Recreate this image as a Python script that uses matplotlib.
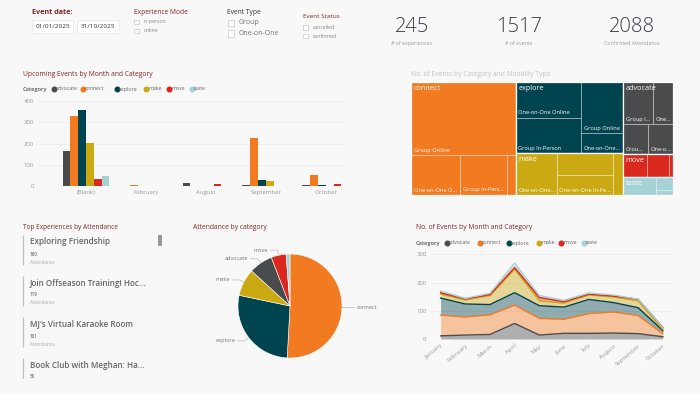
"""
Events dashboard: filters, KPI cards, upcoming bars, treemap, top list, pie and stacked area.
"""

import numpy as np
import matplotlib
matplotlib.use("Agg")
import matplotlib.pyplot as plt
from matplotlib.patches import Rectangle
from matplotlib.lines import Line2D

plt.rcParams['font.family'] = ['Open Sans', 'DejaVu Sans']

# ---------------- data ----------------
categories = ["advocate", "connect", "explore", "make", "move", "taste"]
cat_colors = ["#4A4B4D", "#F27B22", "#00444F", "#CBA913", "#D9291F", "#A6D1D6"]

date_from = "01/01/2025"
date_to = "31/10/2025"
experience_modes = ["in-person", "online"]
event_types = ["Group", "One-on-One"]
event_statuses = ["cancelled", "confirmed"]

kpi_values = [245, 1517, 2088]
kpi_labels = ["# of experiences", "# of events", "Confirmed Attendance"]

# upcoming events by month
up_months = ["(Blank)", "February", "August", "September", "October"]
up_advocate = [163, 0, 13, 6, 3]
up_connect = [330, 3, 0, 228, 52]
up_explore = [360, 0, 0, 30, 6]
up_make = [204, 0, 0, 25, 2]
up_move = [35, 0, 9, 2, 10]
up_taste = [45, 0, 0, 0, 0]

# treemap: events by category and modality
tm_connect_names = ["Group Online", "One-on-One Online", "Group In-Person", "One-on-One In-Person"]
tm_connect = [393, 100, 96, 18]
tm_explore_names = ["One-on-One Online", "Group In-Person", "Group Online", "One-on-One In-Person"]
tm_explore = [120, 117, 110, 43]
tm_make_names = ["One-on-One Online", "Group Online", "One-on-One In-Person", "Group In-Person"]
tm_make = [88, 63, 57, 22]
tm_advocate_names = ["Group In-Person", "One-on-One In-Person", "Group Online", "One-on-One Online"]
tm_advocate = [65, 43, 38, 38]
tm_move_names = ["Group In-Person", "Group Online", "One-on-One Online"]
tm_move = [28, 25, 5]
tm_taste_names = ["Group In-Person", "Group Online", "One-on-One Online"]
tm_taste = [30, 12, 4]

# top experiences
exp_names = ["Exploring Friendship", "Join Offseason Training! Hoc...",
             "MJ's Virtual Karaoke Room", "Book Club with Meghan: Ha..."]
exp_attendance = [160, 119, 101, 55]

# attendance by category (pie order)
pie_names = ["connect", "explore", "make", "advocate", "move", "taste"]
pie_values = [1062, 573, 177, 154, 97, 25]

# events by month and category
months = ["January", "February", "March", "April", "May", "June",
          "July", "August", "September", "October"]
ev_advocate = [11, 14, 16, 55, 14, 20, 20, 21, 19, 8]
ev_connect = [74, 64, 70, 65, 59, 50, 70, 75, 64, 11]
ev_explore = [60, 46, 36, 44, 45, 43, 50, 33, 28, 11]
ev_make = [14, 14, 32, 83, 17, 14, 16, 20, 24, 4]
ev_move = [5, 4, 3, 6, 12, 5, 3, 3, 6, 7]
ev_taste = [6, 2, 5, 16, 7, 5, 4, 4, 0, 0]

# ---------------- figure helpers ----------------
W, H = 700, 394
BG = "#F8F8F8"
TITLE_RED = "#862525"
fig = plt.figure(figsize=(W / 100, H / 100), dpi=100, facecolor=BG)


def fx(px):
    return px / W


def fy(py):
    return 1 - py / H


def add_ax(l, t, r, b):
    ax = fig.add_axes([l / W, 1 - b / H, (r - l) / W, (b - t) / H])
    ax.set_facecolor("none")
    return ax


def ftext(x, y, s, **kw):
    kw.setdefault("va", "center")
    return fig.text(fx(x), fy(y), s, **kw)


def frect(l, t, r, b, **kw):
    fig.add_artist(Rectangle((fx(l), fy(b)), (r - l) / W, (b - t) / H,
                             transform=fig.transFigure, **kw))


def legend_row(x0, y, circle_xs):
    ftext(x0, y, "Category", fontsize=4.1, color="#555555", weight="semibold")
    for cat, col, cx in zip(categories, cat_colors, circle_xs):
        fig.add_artist(Line2D([fx(cx)], [fy(y)], marker="o", ms=3.3, color=col,
                              lw=0, transform=fig.transFigure))
        ftext(cx + 2.2, y, cat, fontsize=3.8, color="#666666")


renderer = fig.canvas.get_renderer()


def fit_text(ax, x, y, s, maxw, **kw):
    t = ax.text(x, y, s, **kw)
    n = len(s)
    while t.get_window_extent(renderer).width > maxw and n > 1:
        n -= 1
        t.set_text(s[:n] + "...")
    if t.get_window_extent(renderer).width > maxw:
        t.set_text("")
    return t


# ---------------- header / filters ----------------
ftext(32, 12, "Event date:", fontsize=5.2, color=TITLE_RED, weight="bold")
for (l, r), s in zip([(32, 73), (77, 119)], [date_from, date_to]):
    frect(l, 20, r, 33, facecolor="white", edgecolor="#E6E6E6", lw=0.5)
    ftext((l + r) / 2, 26.5, s, fontsize=4.6, color="#333333", ha="center")

ftext(134, 12, "Experience Mode", fontsize=4.8, color=TITLE_RED)
for i, s in enumerate(experience_modes):
    yy = 22 + 9 * i
    frect(134, yy - 2.2, 138.5, yy + 2.2, facecolor="white", edgecolor="#BBBBBB", lw=0.4)
    ftext(144, yy, s, fontsize=3.7, color="#888888")

ftext(227, 12, "Event Type", fontsize=4.8, color="#333333")
for i, s in enumerate(event_types):
    yy = 23 + 10.5 * i
    frect(227.5, yy - 3.2, 233.5, yy + 3.2, facecolor="white", edgecolor="#BBBBBB", lw=0.4)
    ftext(239, yy, s, fontsize=5, color="#777777")

ftext(303, 17, "Event Status", fontsize=4.6, color=TITLE_RED)
for i, s in enumerate(event_statuses):
    yy = 27.5 + 8.5 * i
    frect(303, yy - 2.2, 307.5, yy + 2.2, facecolor="white", edgecolor="#BBBBBB", lw=0.4)
    ftext(313, yy, s, fontsize=3.7, color="#888888")

for v, lab, cx in zip(kpi_values, kpi_labels, [412, 519, 632]):
    ftext(cx, 27, str(v), fontsize=14.5, color="#3A3F4B", ha="center", weight="light")
    ftext(cx, 43.5, lab, fontsize=3.8, color="#999999", ha="center")

# ---------------- upcoming events bar chart ----------------
ftext(23, 74.5, "Upcoming Events by Month and Category", fontsize=4.9, color=TITLE_RED)
legend_row(23, 89, [54, 83, 117, 146, 169, 192])

ax1 = add_ax(38, 101, 345, 186)
up_series = [up_advocate, up_connect, up_explore, up_make, up_move, up_taste]
x = np.arange(len(up_months))
bw = 0.13
for i, vals in enumerate(up_series):
    ax1.bar(x + (i - 2.5) * bw, vals, bw, color=cat_colors[i], linewidth=0, zorder=3)
ax1.set_xlim(-0.8, 4.32)
ax1.set_ylim(0, 400)
ax1.set_yticks([0, 100, 200, 300, 400])
ax1.set_xticks(x)
ax1.set_xticklabels(up_months)
ax1.grid(axis="y", color="#EDEDED", lw=0.6)
for sp in ax1.spines.values():
    sp.set_visible(False)
ax1.tick_params(length=0, labelsize=4.3, colors="#999999", pad=3)

# ---------------- treemap ----------------
ftext(411, 75, "No. of Events by Category and Modality Type", fontsize=4.9, color="#C4C4C4")
tm_ax = add_ax(411, 82, 673, 195)
TW, TH = 262, 113
tm_ax.set_xlim(0, TW)
tm_ax.set_ylim(TH, 0)
tm_ax.axis("off")

tm_vals = {"connect": tm_connect, "explore": tm_explore, "make": tm_make,
           "advocate": tm_advocate, "move": tm_move, "taste": tm_taste}
tm_names = {"connect": tm_connect_names, "explore": tm_explore_names, "make": tm_make_names,
            "advocate": tm_advocate_names, "move": tm_move_names, "taste": tm_taste_names}
tm_columns = [["connect"], ["explore", "make"], ["advocate", "move", "taste"]]
tm_split = {"connect": ("rows", [[0], [1, 2, 3]]),
            "explore": ("cols", [[0, 1], [2, 3]]),
            "make": ("cols", [[0], [1, 2], [3]]),
            "advocate": ("rows", [[0, 1], [2, 3]]),
            "move": ("cols", [[0], [1], [2]]),
            "taste": ("cols", [[0], [1, 2]])}


def split(x0, y0, w, h, weights, horizontal):
    tot = float(sum(weights))
    out, off = [], 0.0
    for wt in weights:
        f = wt / tot
        if horizontal:
            out.append((x0 + off * w, y0, f * w, h))
        else:
            out.append((x0, y0 + off * h, w, f * h))
        off += f
    return out


col_sums = [sum(sum(tm_vals[c]) for c in col) for col in tm_columns]
for col, (cx, cy, cw, ch) in zip(tm_columns, split(0, 0, TW, TH, col_sums, True)):
    cat_rects = split(cx, cy, cw, ch, [sum(tm_vals[c]) for c in col], False)
    for cat, (rx, ry, rw, rh) in zip(col, cat_rects):
        color = cat_colors[categories.index(cat)]
        vals, names = tm_vals[cat], tm_names[cat]
        mode, groups = tm_split[cat]
        outer_horizontal = mode == "cols"
        group_sums = [sum(vals[i] for i in g) for g in groups]
        for g, (gx, gy, gw, gh) in zip(groups, split(rx, ry, rw, rh, group_sums, outer_horizontal)):
            for i, (sx, sy, sw, sh) in zip(g, split(gx, gy, gw, gh, [vals[i] for i in g],
                                                    not outer_horizontal)):
                tm_ax.add_patch(Rectangle((sx, sy), sw, sh, facecolor=color,
                                          edgecolor=(1, 1, 1, 0.45), lw=0.5))
                covered = abs(sy - ry) < 0.5 and sh < 30
                if sw >= 18 and sh >= 19 and not covered:
                    fit_text(tm_ax, sx + 2.5, sy + sh - 5, names[i], sw - 4,
                             fontsize=4.1, color="white", va="center")
        tm_ax.add_patch(Rectangle((rx, ry), rw, rh, facecolor="none",
                                  edgecolor="white", lw=0.9))
        tm_ax.text(rx + 2.5, ry + 6.5, cat, fontsize=5.2, color="white", va="center")

# ---------------- top experiences list ----------------
ftext(23, 228, "Top Experiences by Attendance", fontsize=4.7, color=TITLE_RED)
lst = add_ax(18, 233, 170, 379)
lst.set_xlim(18, 170)
lst.set_ylim(379, 233)
lst.axis("off")
for i, (name, val) in enumerate(zip(exp_names, exp_attendance)):
    y0 = 242 + 41 * i
    lst.plot([23, 23], [y0 - 7, y0 + 23], color="#BDBDBD", lw=0.9, solid_capstyle="butt")
    lst.text(30, y0, name, fontsize=5.9, color="#666666", weight="semibold",
             va="center", clip_on=True)
    lst.text(30, y0 + 12, str(val), fontsize=3.3, color="#444444", va="center", clip_on=True)
    lst.text(30, y0 + 20, "Attendance", fontsize=3.3, color="#AAAAAA", va="center", clip_on=True)
frect(158, 235, 161.5, 246, facecolor="#9A9A9A", edgecolor="none")

# ---------------- pie ----------------
ftext(193, 228, "Attendance by category", fontsize=4.9, color=TITLE_RED)
pie_ax = add_ax(238, 254, 342, 358)
pie_colors = [cat_colors[categories.index(n)] for n in pie_names]
wedges, _ = pie_ax.pie(pie_values, colors=pie_colors, startangle=90, counterclock=False,
                       wedgeprops=dict(edgecolor="white", linewidth=0.4))
pie_ax.set_xlim(-1, 1)
pie_ax.set_ylim(-1, 1)
for w, name in zip(wedges, pie_names):
    if name == "taste":
        continue
    th = np.deg2rad((w.theta1 + w.theta2) / 2)
    ex, ey = np.cos(th), np.sin(th)
    sgn = 1 if ex > 0 else -1
    bx, by = 1.1 * ex, 1.1 * ey
    end_x = bx + sgn * 0.14
    pie_ax.plot([ex, bx, end_x], [ey, by, by], color="#BBBBBB", lw=0.5, clip_on=False)
    pie_ax.text(end_x + sgn * 0.04, by, name, fontsize=4.1, color="#777777", va="center",
                ha="left" if sgn > 0 else "right", clip_on=False)

# ---------------- stacked area ----------------
ftext(416, 228, "No. of Events by Month and Category", fontsize=4.9, color=TITLE_RED)
legend_row(416, 243, [447, 480, 509, 539, 561, 584])

ax2 = add_ax(430.7, 254.3, 672.7, 339)
ev_series = [ev_advocate, ev_connect, ev_explore, ev_make, ev_move, ev_taste]
xm = np.arange(len(months))
bottom = np.zeros(len(months))
for vals, col in zip(ev_series, cat_colors):
    top = bottom + np.array(vals)
    ax2.fill_between(xm, bottom, top, color=col, alpha=0.42, lw=0, zorder=2)
    ax2.plot(xm, top, color=col, lw=1.0, zorder=3, clip_on=False)
    bottom = top
ax2.set_xlim(-0.4, 9.4)
ax2.set_ylim(0, 300)
ax2.set_yticks([0, 100, 200, 300])
ax2.set_xticks(xm)
ax2.set_xticklabels(months, rotation=40, ha="right", rotation_mode="anchor")
ax2.grid(axis="y", color="#EDEDED", lw=0.6)
for sp in ax2.spines.values():
    sp.set_visible(False)
ax2.tick_params(length=0, labelsize=4.3, colors="#999999", pad=3)

fig.savefig("out.png", dpi=100, facecolor=BG)
